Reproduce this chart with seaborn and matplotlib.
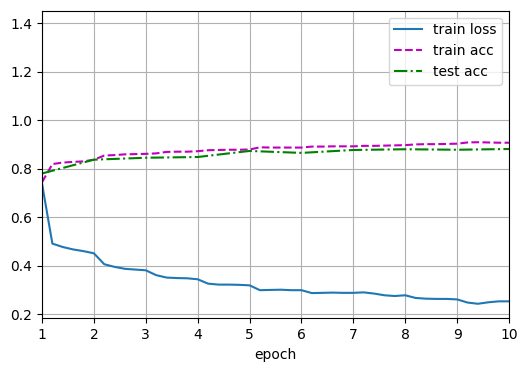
import matplotlib
matplotlib.use("Agg")
import matplotlib.pyplot as plt
import seaborn as sns
import pandas as pd

batch_x = [1.0, 1.2, 1.4, 1.6, 1.8, 2.0, 2.2, 2.4, 2.6, 2.8, 3.0, 3.2, 3.4, 3.6, 3.8, 4.0,
           4.2, 4.4, 4.6, 4.8, 5.0, 5.2, 5.4, 5.6, 5.8, 6.0, 6.2, 6.4, 6.6, 6.8, 7.0,
           7.2, 7.4, 7.6, 7.8, 8.0, 8.2, 8.4, 8.6, 8.8, 9.0, 9.2, 9.4, 9.6, 9.8, 10.0]
train_loss = [0.74, 0.492, 0.478, 0.468, 0.461, 0.452, 0.407, 0.396, 0.388, 0.385, 0.382,
              0.362, 0.352, 0.350, 0.349, 0.345, 0.327, 0.323, 0.323, 0.322, 0.320,
              0.300, 0.301, 0.302, 0.300, 0.300, 0.288, 0.289, 0.290, 0.289, 0.289,
              0.291, 0.286, 0.279, 0.276, 0.279, 0.268, 0.265, 0.264, 0.264, 0.262,
              0.249, 0.244, 0.250, 0.254, 0.254]
train_acc = [0.745, 0.820, 0.826, 0.829, 0.831, 0.838, 0.855, 0.857, 0.860, 0.861, 0.862,
             0.864, 0.870, 0.871, 0.871, 0.873, 0.877, 0.878, 0.879, 0.879, 0.880,
             0.889, 0.888, 0.888, 0.888, 0.888, 0.892, 0.892, 0.893, 0.893, 0.893,
             0.895, 0.895, 0.896, 0.897, 0.898, 0.901, 0.902, 0.902, 0.903, 0.904,
             0.909, 0.910, 0.909, 0.908, 0.908]
epochs = [1, 2, 3, 4, 5, 6, 7, 8, 9, 10]
test_acc = [0.781, 0.838, 0.846, 0.849, 0.874, 0.866, 0.878, 0.881, 0.879, 0.882]

df_train = pd.DataFrame({"epoch": batch_x, "loss": train_loss, "acc": train_acc})
df_test = pd.DataFrame({"epoch": epochs, "acc": test_acc})

fig = plt.figure(figsize=(5.25, 3.71), dpi=100)
ax = fig.add_axes([0.08, 0.142, 0.8895, 0.829])

sns.lineplot(data=df_train, x="epoch", y="loss", ax=ax, color="#1f77b4",
             linestyle="-", linewidth=1.5, label="train loss")
sns.lineplot(data=df_train, x="epoch", y="acc", ax=ax, color="m",
             linestyle="--", linewidth=1.5, label="train acc")
sns.lineplot(data=df_test, x="epoch", y="acc", ax=ax, color="g",
             linestyle="-.", linewidth=1.5, label="test acc")

ax.set_xlim(1, 10)
ax.set_ylim(0.184, 1.452)
ax.set_xticks(range(1, 11))
ax.set_yticks([0.2, 0.4, 0.6, 0.8, 1.0, 1.2, 1.4])
ax.set_xlabel("epoch")
ax.set_ylabel("")
ax.grid(True)
ax.legend(loc="upper right")

fig.savefig("out.png", dpi=100)
